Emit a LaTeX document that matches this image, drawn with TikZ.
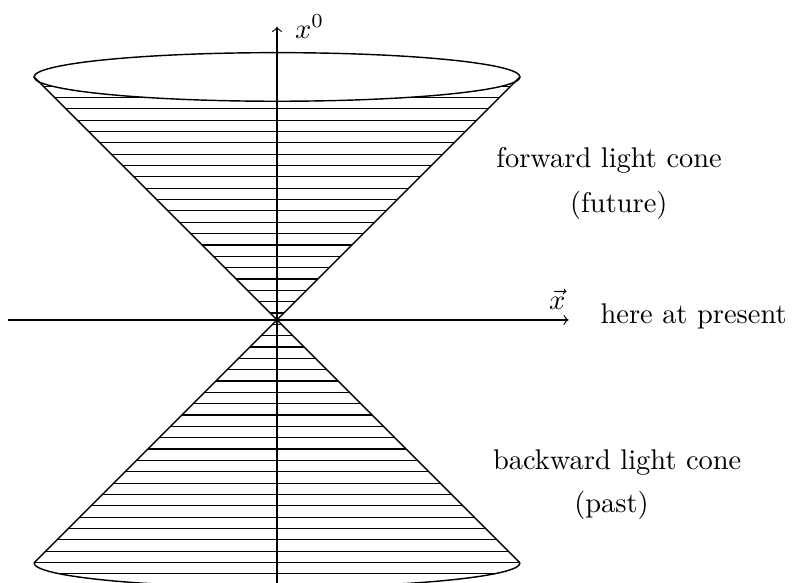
\documentclass[tikz,border=0pt]{standalone}
\usetikzlibrary{positioning}

\begin{document}
\begin{tikzpicture}[
  axis/.style={->},
  cone/.style={line width=0.5pt},
  hatch/.style={line width=0.4pt},
  rim/.style={line width=0.5pt},
  caption/.style={anchor=base},
]
  \useasboundingbox (-3.42,-3.247) rectangle (6.358,3.95);
  \clip (-3.42,-3.247) rectangle (6.358,3.95);

  % Apex and rim points
  \coordinate (apex) at (0,0);
  \coordinate (tl) at (-3,3);
  \coordinate (tr) at (3,3);
  \coordinate (bl) at (-3,-3);
  \coordinate (br) at (3,-3);

  % Hatching, forward cone
  \begin{scope}
    \clip (apex) -- (tl) -- (tr) -- cycle;
    \foreach \k in {0,...,20}
      \draw[hatch] (-3,{0.086+0.14*\k}) -- (3,{0.086+0.14*\k});
  \end{scope}

  % Hatching, backward cone
  \begin{scope}
    \clip (apex) -- (bl) arc[start angle=180, end angle=360, x radius=3, y radius=0.3] -- cycle;
    \foreach \k in {1,...,24}
      \draw[hatch] (-3,{0.086-0.14*\k}) -- (3,{0.086-0.14*\k});
  \end{scope}

  % Rims
  \draw[rim, fill=white] (0,3) ellipse [x radius=3, y radius=0.3];
  \draw[rim] (bl) arc[start angle=180, end angle=360, x radius=3, y radius=0.3];

  % Cone edges
  \draw[cone] (tl) -- (apex) -- (br);
  \draw[cone] (tr) -- (apex) -- (bl);

  % Axes
  \coordinate (xs) at (-3.32,0);
  \coordinate (xe) at (3.6,0);
  \coordinate (ts) at (0,-3.3);
  \coordinate (te) at (0,3.62);
  \draw[axis] (xs) -- (xe);
  \draw[axis] (ts) -- (te);
  \node[right=0.1cm of te] (x0) {$x^0$};
  \node[above] (xvec) at (3.46,0) {$\vec{x}$};

  % Labels
  \node[anchor=base west] (here) at (3.87,-0.04) {here at present};
  \node[caption] (fwd) at (4.10,1.88) {forward light cone};
  \node[caption] (fut) at (4.22,1.33) {(future)};
  \node[caption] (bwd) at (4.20,-1.85) {backward light cone};
  \node[caption] (past) at (4.13,-2.38) {(past)};
\end{tikzpicture}
\end{document}
